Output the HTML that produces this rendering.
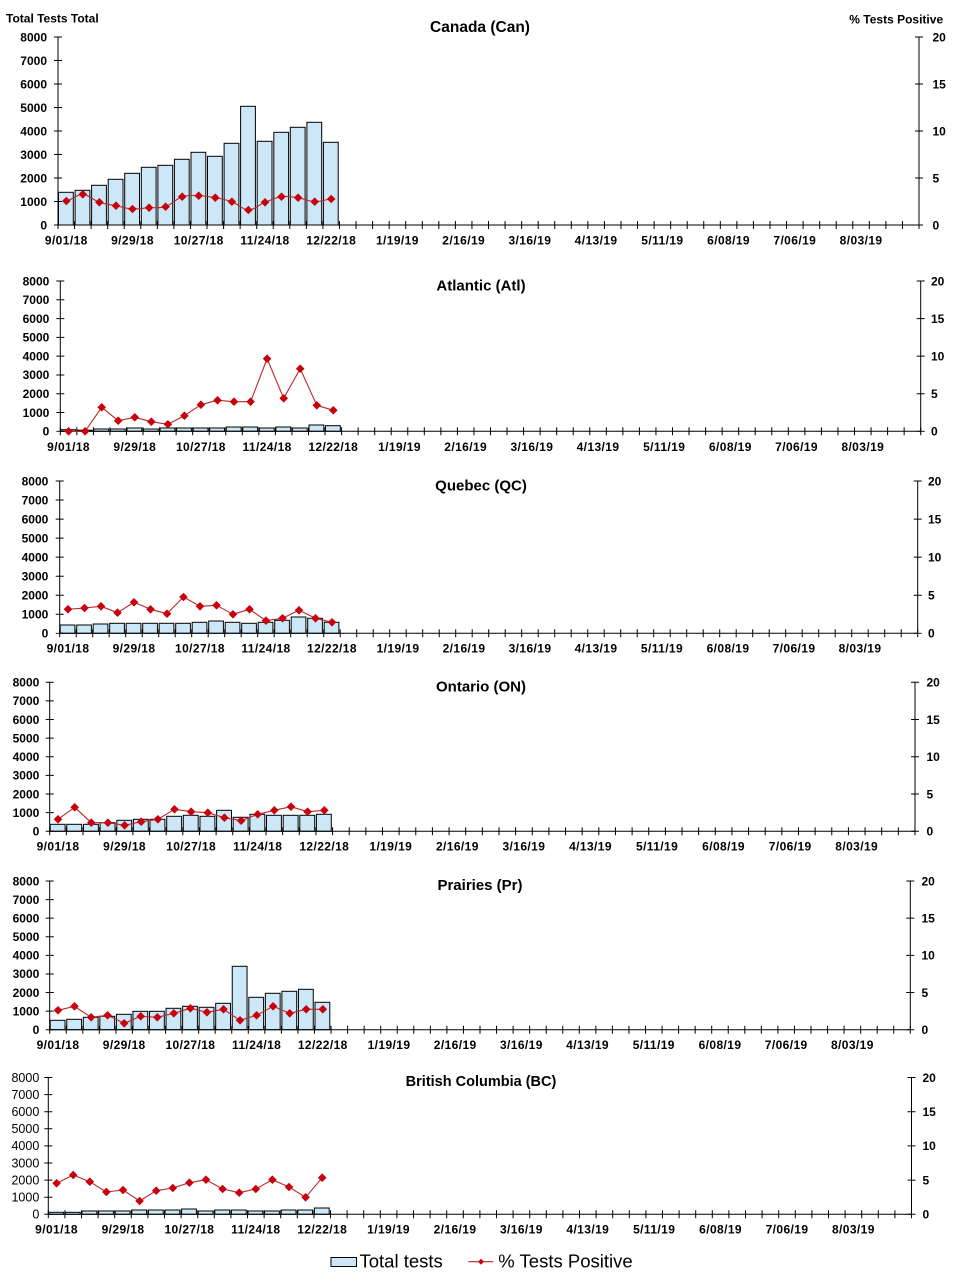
<!DOCTYPE html>
<html><head><meta charset="utf-8"><style>
html,body{margin:0;padding:0;background:#fff;}
svg{display:block;}
text{font-family:"Liberation Sans",Arial,sans-serif;fill:#000;}
.yl{font-size:12px;font-weight:bold;text-anchor:end;}
.yln{font-size:12.5px;font-weight:normal;text-anchor:end;}
.yr{font-size:12px;font-weight:bold;text-anchor:start;}
.xl{font-size:12px;font-weight:bold;text-anchor:middle;letter-spacing:0.4px;}
.ti{font-size:15px;font-weight:bold;text-anchor:middle;}
.ax{stroke:#000;stroke-width:1;fill:none;}
.tk{stroke:#000;fill:none;}
.bar{fill:#cce8f8;stroke:#000;stroke-width:1;}
.ln{fill:none;stroke:#b8282a;stroke-width:1.1;stroke-linejoin:round;marker-start:url(#dm);marker-mid:url(#dm);marker-end:url(#dm);}
</style></head><body>
<svg width="961" height="1284" viewBox="0 0 961 1284" xmlns="http://www.w3.org/2000/svg">
<defs>
<marker id="dm" viewBox="-4.5 -4.5 9 9" markerWidth="9" markerHeight="9" markerUnits="userSpaceOnUse" refX="0" refY="0" overflow="visible"><path d="M0,-4.3 L4.3,0 L0,4.3 L-4.3,0Z" fill="#c8000c"/></marker>
<marker id="dms" viewBox="-3.5 -3.5 7 7" markerWidth="7" markerHeight="7" markerUnits="userSpaceOnUse" refX="0" refY="0"><path d="M0,-3 L3,0 L0,3 L-3,0Z" fill="#c8000c"/></marker>
</defs>

<text x="6" y="22.7" style="font-size:12px;font-weight:bold">Total Tests Total</text>
<text x="849.3" y="23.5" style="font-size:12px;font-weight:bold">% Tests Positive</text>

<!-- ===== Panel 1 Canada ===== -->
<text class="ti" x="480" y="32" style="font-size:15.5px">Canada (Can)</text>
<g>
<rect class="bar" x="58.5" y="192.3" width="14.8" height="32.7"/>
<rect class="bar" x="75.1" y="190.3" width="14.8" height="34.7"/>
<rect class="bar" x="91.6" y="185.3" width="14.8" height="39.7"/>
<rect class="bar" x="108.2" y="179.3" width="14.8" height="45.7"/>
<rect class="bar" x="124.7" y="173.3" width="14.8" height="51.7"/>
<rect class="bar" x="141.3" y="167.3" width="14.8" height="57.7"/>
<rect class="bar" x="157.9" y="165.3" width="14.8" height="59.7"/>
<rect class="bar" x="174.4" y="159.3" width="14.8" height="65.7"/>
<rect class="bar" x="191" y="152.3" width="14.8" height="72.7"/>
<rect class="bar" x="207.5" y="156.3" width="14.8" height="68.7"/>
<rect class="bar" x="224.1" y="143.3" width="14.8" height="81.7"/>
<rect class="bar" x="240.6" y="106.3" width="14.8" height="118.7"/>
<rect class="bar" x="257.2" y="141.3" width="14.8" height="83.7"/>
<rect class="bar" x="273.8" y="132.3" width="14.8" height="92.7"/>
<rect class="bar" x="290.3" y="127.3" width="14.8" height="97.7"/>
<rect class="bar" x="306.9" y="122.3" width="14.8" height="102.7"/>
<rect class="bar" x="323.4" y="142.3" width="14.8" height="82.7"/>
</g>
<line class="ax" x1="58" y1="37" x2="58" y2="225"/>
<line class="ax" x1="919" y1="37" x2="919" y2="225"/>
<line class="ax" x1="58" y1="225" x2="919" y2="225"/>
<line class="tk" x1="57.5" y1="225" x2="919.5" y2="225" stroke-width="8" stroke-dasharray="1 15.558"/>
<line class="tk" x1="58" y1="36.5" x2="58" y2="225.5" stroke-width="8" stroke-dasharray="1 22.5"/>
<line class="tk" x1="919" y1="36.5" x2="919" y2="225.5" stroke-width="8" stroke-dasharray="1 46"/>
<path class="ln" d="M66.3,201 C71.8,199.9 77.3,194.1 82.8,194.3 C88.3,194.5 93.9,200.4 99.4,202.3 C104.9,204.2 110.5,204.6 116,205.7 C121.5,206.8 127,208.7 132.5,209 C138,209.3 143.6,208.1 149.1,207.7 C154.6,207.3 160.1,208.5 165.6,206.7 C171.1,204.9 176.7,198.5 182.2,196.7 C187.7,194.9 193.2,195.5 198.7,195.7 C204.2,195.9 209.8,196.7 215.3,197.7 C220.8,198.7 226.4,199.7 231.9,201.7 C237.4,203.7 242.9,209.9 248.4,210 C253.9,210.1 259.5,204.5 265,202.3 C270.5,200.1 276,197.5 281.5,196.7 C287,195.9 292.6,196.9 298.1,197.7 C303.6,198.5 309.2,201.5 314.7,201.7 C320.2,201.9 325.7,199.5 331.2,199"/>
<g>
<text class="yl" x="47" y="41.3">8000</text><text class="yl" x="47" y="64.8">7000</text><text class="yl" x="47" y="88.3">6000</text><text class="yl" x="47" y="111.8">5000</text><text class="yl" x="47" y="135.3">4000</text><text class="yl" x="47" y="158.8">3000</text><text class="yl" x="47" y="182.3">2000</text><text class="yl" x="47" y="205.8">1000</text><text class="yl" x="47" y="229.3">0</text>
<text class="yr" x="932.5" y="41.3">20</text><text class="yr" x="932.5" y="88.3">15</text><text class="yr" x="932.5" y="135.3">10</text><text class="yr" x="932.5" y="182.3">5</text><text class="yr" x="932.5" y="229.3">0</text>
<text class="xl" x="66.3" y="244.5">9/01/18</text><text class="xl" x="132.5" y="244.5">9/29/18</text><text class="xl" x="198.7" y="244.5">10/27/18</text><text class="xl" x="265" y="244.5">11/24/18</text><text class="xl" x="331.2" y="244.5">12/22/18</text><text class="xl" x="397.4" y="244.5">1/19/19</text><text class="xl" x="463.7" y="244.5">2/16/19</text><text class="xl" x="529.9" y="244.5">3/16/19</text><text class="xl" x="596.1" y="244.5">4/13/19</text><text class="xl" x="662.4" y="244.5">5/11/19</text><text class="xl" x="728.6" y="244.5">6/08/19</text><text class="xl" x="794.8" y="244.5">7/06/19</text><text class="xl" x="861.1" y="244.5">8/03/19</text>
</g>

<!-- ===== Panel 2 Atlantic ===== -->
<text class="ti" x="481" y="290.5">Atlantic (Atl)</text>
<g>
<rect class="bar" x="60.8" y="429.7" width="14.8" height="1.6"/>
<rect class="bar" x="77.35" y="430.2" width="14.8" height="1.1"/>
<rect class="bar" x="93.9" y="429" width="14.8" height="2.3"/>
<rect class="bar" x="110.4" y="429" width="14.8" height="2.3"/>
<rect class="bar" x="127" y="428" width="14.8" height="3.3"/>
<rect class="bar" x="143.5" y="429" width="14.8" height="2.3"/>
<rect class="bar" x="160.1" y="428" width="14.8" height="3.3"/>
<rect class="bar" x="176.6" y="428" width="14.8" height="3.3"/>
<rect class="bar" x="193.2" y="428" width="14.8" height="3.3"/>
<rect class="bar" x="209.7" y="428" width="14.8" height="3.3"/>
<rect class="bar" x="226.3" y="427" width="14.8" height="4.3"/>
<rect class="bar" x="242.8" y="427" width="14.8" height="4.3"/>
<rect class="bar" x="259.4" y="428" width="14.8" height="3.3"/>
<rect class="bar" x="275.9" y="427" width="14.8" height="4.3"/>
<rect class="bar" x="292.4" y="428" width="14.8" height="3.3"/>
<rect class="bar" x="309" y="425" width="14.8" height="6.3"/>
<rect class="bar" x="325.5" y="425.7" width="14.8" height="5.6"/>
</g>
<line class="ax" x1="60.3" y1="281" x2="60.3" y2="431.3"/>
<line class="ax" x1="920.7" y1="281" x2="920.7" y2="431.3"/>
<line class="ax" x1="60.3" y1="431.3" x2="920.7" y2="431.3"/>
<line class="tk" x1="59.8" y1="431.3" x2="921.2" y2="431.3" stroke-width="8" stroke-dasharray="1 15.546"/>
<line class="tk" x1="60.3" y1="280.5" x2="60.3" y2="431.8" stroke-width="8" stroke-dasharray="1 17.79"/>
<line class="tk" x1="920.7" y1="280.5" x2="920.7" y2="431.8" stroke-width="8" stroke-dasharray="1 36.58"/>
<polyline class="ln" points="68.6,431.3 85.1,431.3 101.7,407.3 118.2,420.7 134.8,417.3 151.3,421.7 167.9,424.3 184.4,415.7 200.9,404.7 217.5,400.3 234,401.7 250.6,401.7 267.1,358.7 283.7,398.3 300.2,368.7 316.8,405.3 333.3,410.3"/>
<g>
<text class="yl" x="49.3" y="285.3">8000</text><text class="yl" x="49.3" y="304.1">7000</text><text class="yl" x="49.3" y="322.9">6000</text><text class="yl" x="49.3" y="341.7">5000</text><text class="yl" x="49.3" y="360.5">4000</text><text class="yl" x="49.3" y="379.2">3000</text><text class="yl" x="49.3" y="398">2000</text><text class="yl" x="49.3" y="416.8">1000</text><text class="yl" x="49.3" y="435.6">0</text>
<text class="yr" x="931" y="285.3">20</text><text class="yr" x="931" y="322.9">15</text><text class="yr" x="931" y="360.5">10</text><text class="yr" x="931" y="398">5</text><text class="yr" x="931" y="435.6">0</text>
<text class="xl" x="68.6" y="450.8">9/01/18</text><text class="xl" x="134.8" y="450.8">9/29/18</text><text class="xl" x="200.9" y="450.8">10/27/18</text><text class="xl" x="267.1" y="450.8">11/24/18</text><text class="xl" x="333.3" y="450.8">12/22/18</text><text class="xl" x="399.5" y="450.8">1/19/19</text><text class="xl" x="465.7" y="450.8">2/16/19</text><text class="xl" x="531.9" y="450.8">3/16/19</text><text class="xl" x="598" y="450.8">4/13/19</text><text class="xl" x="664.2" y="450.8">5/11/19</text><text class="xl" x="730.4" y="450.8">6/08/19</text><text class="xl" x="796.6" y="450.8">7/06/19</text><text class="xl" x="862.8" y="450.8">8/03/19</text>
</g>

<!-- ===== Panel 3 Quebec ===== -->
<text class="ti" x="481" y="490.5">Quebec (QC)</text>
<g>
<rect class="bar" x="60.2" y="625" width="14.7" height="8.3"/>
<rect class="bar" x="76.7" y="625" width="14.7" height="8.3"/>
<rect class="bar" x="93.2" y="624" width="14.7" height="9.3"/>
<rect class="bar" x="109.7" y="623.3" width="14.7" height="10"/>
<rect class="bar" x="126.2" y="623.3" width="14.7" height="10"/>
<rect class="bar" x="142.7" y="623.3" width="14.7" height="10"/>
<rect class="bar" x="159.2" y="623.3" width="14.7" height="10"/>
<rect class="bar" x="175.7" y="623.3" width="14.7" height="10"/>
<rect class="bar" x="192.2" y="622.3" width="14.7" height="11"/>
<rect class="bar" x="208.7" y="621" width="14.7" height="12.3"/>
<rect class="bar" x="225.2" y="622.3" width="14.7" height="11"/>
<rect class="bar" x="241.7" y="623.3" width="14.7" height="10"/>
<rect class="bar" x="258.2" y="622.3" width="14.7" height="11"/>
<rect class="bar" x="274.7" y="620.3" width="14.7" height="13"/>
<rect class="bar" x="291.2" y="617" width="14.7" height="16.3"/>
<rect class="bar" x="307.7" y="618.3" width="14.7" height="15"/>
<rect class="bar" x="324.2" y="622.3" width="14.7" height="11"/>
</g>
<line class="ax" x1="59.7" y1="481" x2="59.7" y2="633.3"/>
<line class="ax" x1="917.7" y1="481" x2="917.7" y2="633.3"/>
<line class="ax" x1="59.7" y1="633.3" x2="917.7" y2="633.3"/>
<line class="tk" x1="59.2" y1="633.3" x2="918.2" y2="633.3" stroke-width="8" stroke-dasharray="1 15.5"/>
<line class="tk" x1="59.7" y1="480.5" x2="59.7" y2="633.8" stroke-width="8" stroke-dasharray="1 18.04"/>
<line class="tk" x1="917.7" y1="480.5" x2="917.7" y2="633.8" stroke-width="8" stroke-dasharray="1 37.08"/>
<polyline class="ln" points="68,609.3 84.5,608 101,606.3 117.5,612.7 134,602.3 150.5,609.3 167,613.7 183.5,597 200,606.3 216.5,605.3 233,614.3 249.5,609.3 266,620.7 282.5,618.3 299,610.3 315.5,618.3 332,622.3"/>
<g>
<text class="yl" x="48.3" y="485.3">8000</text><text class="yl" x="48.3" y="504.3">7000</text><text class="yl" x="48.3" y="523.4">6000</text><text class="yl" x="48.3" y="542.4">5000</text><text class="yl" x="48.3" y="561.5">4000</text><text class="yl" x="48.3" y="580.5">3000</text><text class="yl" x="48.3" y="599.5">2000</text><text class="yl" x="48.3" y="618.6">1000</text><text class="yl" x="48.3" y="637.6">0</text>
<text class="yr" x="928" y="485.3">20</text><text class="yr" x="928" y="523.4">15</text><text class="yr" x="928" y="561.5">10</text><text class="yr" x="928" y="599.5">5</text><text class="yr" x="928" y="637.6">0</text>
<text class="xl" x="68" y="652.6">9/01/18</text><text class="xl" x="134" y="652.6">9/29/18</text><text class="xl" x="200" y="652.6">10/27/18</text><text class="xl" x="266" y="652.6">11/24/18</text><text class="xl" x="332" y="652.6">12/22/18</text><text class="xl" x="398" y="652.6">1/19/19</text><text class="xl" x="464" y="652.6">2/16/19</text><text class="xl" x="530" y="652.6">3/16/19</text><text class="xl" x="596" y="652.6">4/13/19</text><text class="xl" x="662" y="652.6">5/11/19</text><text class="xl" x="728" y="652.6">6/08/19</text><text class="xl" x="794" y="652.6">7/06/19</text><text class="xl" x="860" y="652.6">8/03/19</text>
</g>

<!-- ===== Panel 4 Ontario ===== -->
<text class="ti" x="481" y="691.5">Ontario (ON)</text>
<g>
<rect class="bar" x="50.2" y="824.3" width="14.9" height="7"/>
<rect class="bar" x="66.8" y="824.3" width="14.9" height="7"/>
<rect class="bar" x="83.5" y="824.3" width="14.9" height="7"/>
<rect class="bar" x="100.1" y="822.7" width="14.9" height="8.6"/>
<rect class="bar" x="116.8" y="820.3" width="14.9" height="11"/>
<rect class="bar" x="133.4" y="819.3" width="14.9" height="12"/>
<rect class="bar" x="150" y="819.3" width="14.9" height="12"/>
<rect class="bar" x="166.7" y="816.3" width="14.9" height="15"/>
<rect class="bar" x="183.3" y="815.3" width="14.9" height="16"/>
<rect class="bar" x="200" y="816.3" width="14.9" height="15"/>
<rect class="bar" x="216.6" y="810.3" width="14.9" height="21"/>
<rect class="bar" x="233.2" y="817.3" width="14.9" height="14"/>
<rect class="bar" x="249.9" y="814.3" width="14.9" height="17"/>
<rect class="bar" x="266.5" y="815.3" width="14.9" height="16"/>
<rect class="bar" x="283.2" y="815.3" width="14.9" height="16"/>
<rect class="bar" x="299.8" y="815.3" width="14.9" height="16"/>
<rect class="bar" x="316.4" y="814.3" width="14.9" height="17"/>
</g>
<line class="ax" x1="49.7" y1="682.3" x2="49.7" y2="831.3"/>
<line class="ax" x1="915" y1="682.3" x2="915" y2="831.3"/>
<line class="ax" x1="49.7" y1="831.3" x2="915" y2="831.3"/>
<line class="tk" x1="49.2" y1="831.3" x2="915.5" y2="831.3" stroke-width="8" stroke-dasharray="1 15.64"/>
<line class="tk" x1="49.7" y1="681.8" x2="49.7" y2="831.8" stroke-width="8" stroke-dasharray="1 17.625"/>
<line class="tk" x1="915" y1="681.8" x2="915" y2="831.8" stroke-width="8" stroke-dasharray="1 36.25"/>
<polyline class="ln" points="58,819.3 74.7,807.3 91.3,822.7 107.9,822.7 124.6,825.3 141.2,821.7 157.9,819.3 174.5,809.3 191.1,811.7 207.8,812.7 224.4,817.7 241.1,820.7 257.7,814.3 274.3,810.3 291,806.7 307.6,811.7 324.3,810.3"/>
<g>
<text class="yl" x="39.3" y="686.6">8000</text><text class="yl" x="39.3" y="705.2">7000</text><text class="yl" x="39.3" y="723.9">6000</text><text class="yl" x="39.3" y="742.5">5000</text><text class="yl" x="39.3" y="761.1">4000</text><text class="yl" x="39.3" y="779.7">3000</text><text class="yl" x="39.3" y="798.4">2000</text><text class="yl" x="39.3" y="817">1000</text><text class="yl" x="39.3" y="835.6">0</text>
<text class="yr" x="926.5" y="686.6">20</text><text class="yr" x="926.5" y="723.9">15</text><text class="yr" x="926.5" y="761.1">10</text><text class="yr" x="926.5" y="798.4">5</text><text class="yr" x="926.5" y="835.6">0</text>
<text class="xl" x="58" y="850.3">9/01/18</text><text class="xl" x="124.6" y="850.3">9/29/18</text><text class="xl" x="191.1" y="850.3">10/27/18</text><text class="xl" x="257.7" y="850.3">11/24/18</text><text class="xl" x="324.3" y="850.3">12/22/18</text><text class="xl" x="390.8" y="850.3">1/19/19</text><text class="xl" x="457.4" y="850.3">2/16/19</text><text class="xl" x="523.9" y="850.3">3/16/19</text><text class="xl" x="590.5" y="850.3">4/13/19</text><text class="xl" x="657.1" y="850.3">5/11/19</text><text class="xl" x="723.6" y="850.3">6/08/19</text><text class="xl" x="790.2" y="850.3">7/06/19</text><text class="xl" x="856.7" y="850.3">8/03/19</text>
</g>

<!-- ===== Panel 5 Prairies ===== -->
<text class="ti" x="480" y="890">Prairies (Pr)</text>
<g>
<rect class="bar" x="50.2" y="1020.3" width="14.8" height="9.4"/>
<rect class="bar" x="66.75" y="1019.3" width="14.8" height="10.4"/>
<rect class="bar" x="83.3" y="1017.3" width="14.8" height="12.4"/>
<rect class="bar" x="99.85" y="1016.3" width="14.8" height="13.4"/>
<rect class="bar" x="116.4" y="1014.3" width="14.8" height="15.4"/>
<rect class="bar" x="132.95" y="1011.3" width="14.8" height="18.4"/>
<rect class="bar" x="149.5" y="1011.3" width="14.8" height="18.4"/>
<rect class="bar" x="166.05" y="1008.3" width="14.8" height="21.4"/>
<rect class="bar" x="182.6" y="1006.3" width="14.8" height="23.4"/>
<rect class="bar" x="199.15" y="1007.3" width="14.8" height="22.4"/>
<rect class="bar" x="215.7" y="1003.3" width="14.8" height="26.4"/>
<rect class="bar" x="232.25" y="966.3" width="14.8" height="63.4"/>
<rect class="bar" x="248.8" y="997.3" width="14.8" height="32.4"/>
<rect class="bar" x="265.35" y="993.3" width="14.8" height="36.4"/>
<rect class="bar" x="281.9" y="991.3" width="14.8" height="38.4"/>
<rect class="bar" x="298.45" y="989.3" width="14.8" height="40.4"/>
<rect class="bar" x="315" y="1002.3" width="14.8" height="27.4"/>
</g>
<line class="ax" x1="49.7" y1="881" x2="49.7" y2="1029.7"/>
<line class="ax" x1="910.3" y1="881" x2="910.3" y2="1029.7"/>
<line class="ax" x1="49.7" y1="1029.7" x2="910.3" y2="1029.7"/>
<line class="tk" x1="49.2" y1="1029.7" x2="910.8" y2="1029.7" stroke-width="8" stroke-dasharray="1 15.55"/>
<line class="tk" x1="49.7" y1="880.5" x2="49.7" y2="1030.2" stroke-width="8" stroke-dasharray="1 17.59"/>
<line class="tk" x1="910.3" y1="880.5" x2="910.3" y2="1030.2" stroke-width="8" stroke-dasharray="1 36.18"/>
<polyline class="ln" points="58,1010.3 74.5,1006.3 91.1,1017.3 107.6,1015.3 124.2,1023.3 140.7,1016.3 157.3,1017.3 173.8,1013.3 190.4,1008.3 206.9,1012.3 223.5,1009.3 240,1020.3 256.6,1015.3 273.1,1006.3 289.7,1013.3 306.2,1009.3 322.8,1009.3"/>
<g>
<text class="yl" x="39.3" y="885.3">8000</text><text class="yl" x="39.3" y="903.9">7000</text><text class="yl" x="39.3" y="922.5">6000</text><text class="yl" x="39.3" y="941.1">5000</text><text class="yl" x="39.3" y="959.7">4000</text><text class="yl" x="39.3" y="978.2">3000</text><text class="yl" x="39.3" y="996.8">2000</text><text class="yl" x="39.3" y="1015.4">1000</text><text class="yl" x="39.3" y="1034">0</text>
<text class="yr" x="921.5" y="885.3">20</text><text class="yr" x="921.5" y="922.5">15</text><text class="yr" x="921.5" y="959.7">10</text><text class="yr" x="921.5" y="996.8">5</text><text class="yr" x="921.5" y="1034">0</text>
<text class="xl" x="58" y="1049">9/01/18</text><text class="xl" x="124.2" y="1049">9/29/18</text><text class="xl" x="190.4" y="1049">10/27/18</text><text class="xl" x="256.6" y="1049">11/24/18</text><text class="xl" x="322.8" y="1049">12/22/18</text><text class="xl" x="389" y="1049">1/19/19</text><text class="xl" x="455.2" y="1049">2/16/19</text><text class="xl" x="521.4" y="1049">3/16/19</text><text class="xl" x="587.6" y="1049">4/13/19</text><text class="xl" x="653.8" y="1049">5/11/19</text><text class="xl" x="720" y="1049">6/08/19</text><text class="xl" x="786.2" y="1049">7/06/19</text><text class="xl" x="852.4" y="1049">8/03/19</text>
</g>

<!-- ===== Panel 6 British Columbia ===== -->
<text class="ti" x="481" y="1086" style="font-size:14.5px">British Columbia (BC)</text>
<g>
<rect class="bar" x="48.8" y="1212.3" width="14.8" height="2"/>
<rect class="bar" x="65.4" y="1212.3" width="14.8" height="2"/>
<rect class="bar" x="82" y="1211" width="14.8" height="3.3"/>
<rect class="bar" x="98.6" y="1211" width="14.8" height="3.3"/>
<rect class="bar" x="115.2" y="1211" width="14.8" height="3.3"/>
<rect class="bar" x="131.8" y="1210" width="14.8" height="4.3"/>
<rect class="bar" x="148.4" y="1210" width="14.8" height="4.3"/>
<rect class="bar" x="165" y="1210" width="14.8" height="4.3"/>
<rect class="bar" x="181.6" y="1209" width="14.8" height="5.3"/>
<rect class="bar" x="198.2" y="1211" width="14.8" height="3.3"/>
<rect class="bar" x="214.8" y="1210" width="14.8" height="4.3"/>
<rect class="bar" x="231.4" y="1210" width="14.8" height="4.3"/>
<rect class="bar" x="248" y="1211" width="14.8" height="3.3"/>
<rect class="bar" x="264.6" y="1211" width="14.8" height="3.3"/>
<rect class="bar" x="281.2" y="1210" width="14.8" height="4.3"/>
<rect class="bar" x="297.8" y="1210" width="14.8" height="4.3"/>
<rect class="bar" x="314.4" y="1208" width="14.8" height="6.3"/>
</g>
<line class="ax" x1="48.3" y1="1077.5" x2="48.3" y2="1214.3"/>
<line class="ax" x1="911.5" y1="1077.5" x2="911.5" y2="1214.3"/>
<line class="ax" x1="48.3" y1="1214.3" x2="911.5" y2="1214.3"/>
<line class="tk" x1="47.8" y1="1214.3" x2="912" y2="1214.3" stroke-width="8" stroke-dasharray="1 15.6"/>
<line class="tk" x1="48.3" y1="1077" x2="48.3" y2="1214.8" stroke-width="8" stroke-dasharray="1 16.1"/>
<line class="tk" x1="911.5" y1="1077" x2="911.5" y2="1214.8" stroke-width="8" stroke-dasharray="1 33.2"/>
<polyline class="ln" points="56.6,1183.3 73.2,1175 89.8,1181.7 106.4,1192 123,1190 139.6,1201 156.2,1190.7 172.8,1188 189.4,1182.7 206,1179.7 222.6,1189 239.2,1192.7 255.8,1189 272.4,1179.7 289,1187 305.6,1197.3 322.2,1177.7"/>
<g>
<text class="yln" x="39.3" y="1081.8">8000</text><text class="yln" x="39.3" y="1098.9">7000</text><text class="yln" x="39.3" y="1116">6000</text><text class="yln" x="39.3" y="1133.1">5000</text><text class="yln" x="39.3" y="1150.2">4000</text><text class="yln" x="39.3" y="1167.3">3000</text><text class="yln" x="39.3" y="1184.4">2000</text><text class="yln" x="39.3" y="1201.5">1000</text><text class="yln" x="39.3" y="1218.6">0</text>
<text class="yr" x="922.5" y="1081.8">20</text><text class="yr" x="922.5" y="1116">15</text><text class="yr" x="922.5" y="1150.2">10</text><text class="yr" x="922.5" y="1184.4">5</text><text class="yr" x="922.5" y="1218.6">0</text>
<text class="xl" x="56.6" y="1233.3">9/01/18</text><text class="xl" x="123" y="1233.3">9/29/18</text><text class="xl" x="189.4" y="1233.3">10/27/18</text><text class="xl" x="255.8" y="1233.3">11/24/18</text><text class="xl" x="322.2" y="1233.3">12/22/18</text><text class="xl" x="388.6" y="1233.3">1/19/19</text><text class="xl" x="455" y="1233.3">2/16/19</text><text class="xl" x="521.4" y="1233.3">3/16/19</text><text class="xl" x="587.8" y="1233.3">4/13/19</text><text class="xl" x="654.2" y="1233.3">5/11/19</text><text class="xl" x="720.6" y="1233.3">6/08/19</text><text class="xl" x="787" y="1233.3">7/06/19</text><text class="xl" x="853.4" y="1233.3">8/03/19</text>
</g>

<!-- ===== Legend ===== -->
<rect class="bar" x="331" y="1257.5" width="25.5" height="9"/>
<text x="359.5" y="1267.5" style="font-size:18.5px">Total tests</text>
<line x1="468.3" y1="1261.7" x2="493.3" y2="1261.7" stroke="#b8282a" stroke-width="1.1"/>
<path d="M481,1258.7 L484,1261.7 L481,1264.7 L478,1261.7Z" fill="#c8000c"/>
<text x="498.3" y="1267.5" style="font-size:18.5px">% Tests Positive</text>
</svg>
</body></html>
